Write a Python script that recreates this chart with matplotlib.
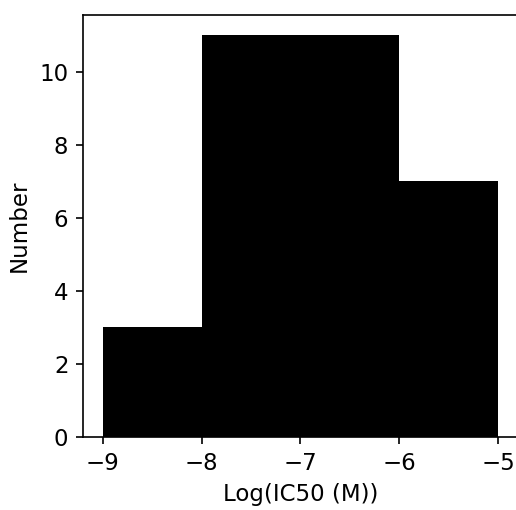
import numpy as np
import matplotlib.pyplot as plt

# histogram of log IC50 values (bin edges and counts)
bin_edges = [-9, -8, -7, -6, -5]
counts = [3, 11, 11, 7]

plt.rcParams['font.size'] = 11

fig = plt.figure(figsize=(516 / 150, 510 / 150), dpi=150)
ax = fig.add_axes([83 / 516, 73 / 510, 435 / 516, 422 / 510])

ax.hist(bin_edges[:-1], bins=bin_edges, weights=counts, color='black')
ax.set_xlim(-9.2, -4.8)
ax.set_ylim(0, 11 * 1.05)
ax.set_xticks([-9, -8, -7, -6, -5])
ax.set_yticks([0, 2, 4, 6, 8, 10])
ax.set_xlabel('Log(IC50 (M))')
ax.set_ylabel('Number')

fig.savefig('out.png', dpi=150)
